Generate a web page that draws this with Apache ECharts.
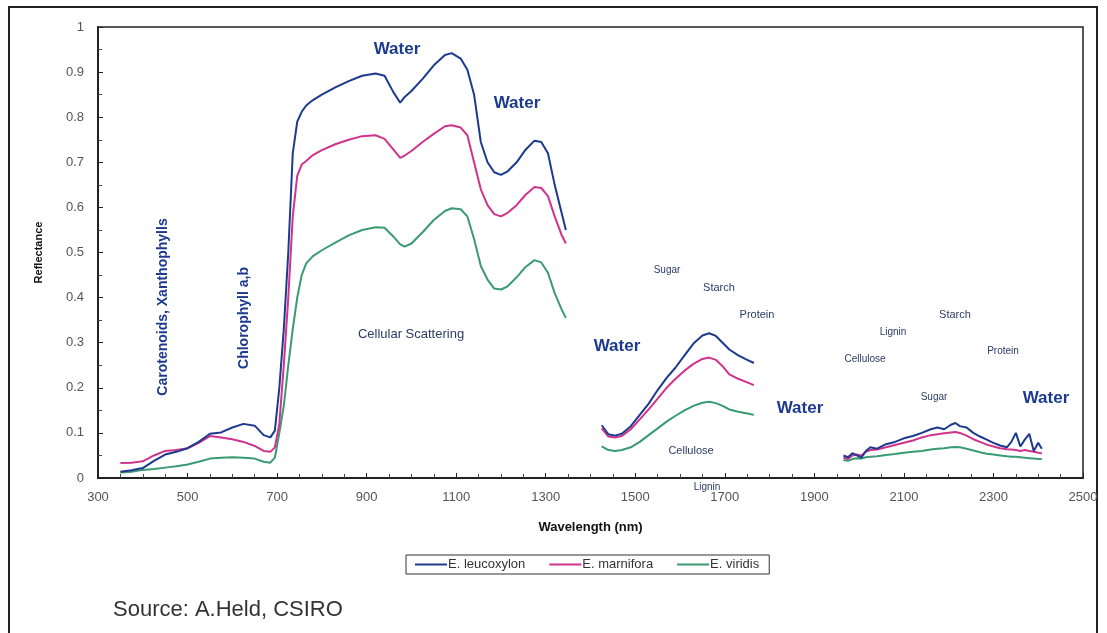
<!DOCTYPE html>
<html>
<head>
<meta charset="utf-8">
<script src="https://cdn.jsdelivr.net/npm/echarts@6/dist/echarts.min.js"></script>
<style>
html,body{margin:0;padding:0;background:#fff;}
#chart{width:1107px;height:633px;}
</style>
</head>
<body>
<div id="chart"></div>
<script>
// Wavelength samples (nm); null marks a gap in the measured spectrum
const wavelengths = [
  350,375,400,425,450,475,500,525,550,575,600,625,650,670,685,695,705,715,725,735,745,755,765,780,800,830,860,890,920,940,960,975,985,1000,1025,1050,1075,1090,1110,1125,1140,1155,1170,1185,1200,1215,1235,1255,1275,1290,1305,1320,1335,1345,
  1380,
  1425,1440,1455,1470,1490,1510,1530,1550,1570,1590,1610,1630,1650,1665,1680,1695,1710,1730,1750,1765,
  1860,
  1965,1975,1985,1995,2005,2015,2025,2040,2060,2080,2100,2120,2140,2160,2175,2190,2205,2215,2225,2240,2255,2270,2285,2300,2315,2330,2340,2350,2360,2370,2380,2390,2400,2408
];
const leucoxylon = [
  0.014,0.017,0.022,0.038,0.052,0.058,0.066,0.080,0.098,0.101,0.112,0.120,0.116,0.095,0.090,0.105,0.20,0.33,0.50,0.72,0.79,0.812,0.826,0.838,0.850,0.866,0.880,0.892,0.897,0.892,0.855,0.832,0.845,0.858,0.885,0.915,0.938,0.942,0.930,0.905,0.850,0.745,0.700,0.678,0.672,0.680,0.700,0.728,0.748,0.745,0.720,0.650,0.590,0.550,
  null,
  0.117,0.097,0.094,0.098,0.115,0.140,0.165,0.195,0.222,0.245,0.272,0.298,0.316,0.321,0.315,0.300,0.285,0.272,0.262,0.255,
  null,
  0.050,0.046,0.055,0.050,0.045,0.060,0.068,0.065,0.075,0.080,0.088,0.093,0.100,0.108,0.112,0.108,0.118,0.122,0.115,0.112,0.100,0.092,0.085,0.078,0.072,0.068,0.080,0.100,0.070,0.085,0.098,0.060,0.078,0.065
];
const marnifora = [
  0.033,0.034,0.037,0.050,0.060,0.062,0.066,0.078,0.093,0.090,0.086,0.080,0.071,0.060,0.058,0.068,0.12,0.25,0.40,0.58,0.67,0.695,0.703,0.716,0.727,0.740,0.750,0.758,0.760,0.752,0.728,0.710,0.715,0.725,0.745,0.763,0.780,0.782,0.777,0.760,0.700,0.640,0.605,0.585,0.580,0.588,0.605,0.628,0.645,0.643,0.625,0.580,0.540,0.520,
  null,
  0.110,0.092,0.090,0.093,0.108,0.130,0.152,0.176,0.200,0.220,0.238,0.253,0.264,0.267,0.262,0.248,0.230,0.220,0.212,0.206,
  null,
  0.045,0.042,0.050,0.052,0.050,0.058,0.062,0.063,0.068,0.073,0.078,0.083,0.090,0.095,0.097,0.099,0.101,0.102,0.100,0.094,0.086,0.080,0.074,0.070,0.066,0.064,0.063,0.062,0.060,0.062,0.060,0.058,0.056,0.055
];
const viridis = [
  0.012,0.014,0.018,0.020,0.023,0.026,0.030,0.036,0.043,0.045,0.046,0.045,0.043,0.036,0.034,0.045,0.10,0.16,0.25,0.33,0.40,0.45,0.476,0.492,0.505,0.522,0.538,0.550,0.556,0.555,0.535,0.518,0.513,0.520,0.545,0.572,0.592,0.598,0.596,0.580,0.530,0.470,0.440,0.420,0.418,0.425,0.445,0.468,0.483,0.478,0.455,0.410,0.375,0.355,
  null,
  0.070,0.062,0.060,0.062,0.068,0.080,0.095,0.110,0.125,0.138,0.150,0.160,0.167,0.169,0.166,0.160,0.152,0.147,0.143,0.140,
  null,
  0.040,0.038,0.042,0.044,0.043,0.046,0.047,0.048,0.051,0.053,0.056,0.058,0.060,0.063,0.065,0.066,0.068,0.069,0.068,0.065,0.061,0.057,0.054,0.052,0.050,0.048,0.047,0.047,0.046,0.045,0.044,0.043,0.042,0.042
];
const seriesNames = ['E. leucoxylon','E. marnifora','E. viridis'];
const xTicks = {min:300, max:2500, interval:200};
const yTicks = {min:0, max:1, interval:0.1};

const colors = ['#1c3a8e','#d0338c','#3a9a72'];
const FONT = '"Liberation Sans", Arial, sans-serif';

function toData(vals){
  return wavelengths.map((w,i)=>[w, vals[i]===null ? '-' : vals[i]]);
}

const chart = echarts.init(document.getElementById('chart'));
const waterStyle = {fill:'#1c3a8e', font:'bold 17px ' + FONT, textAlign:'center', textVerticalAlign:'middle'};
const smallStyle = (size)=>({fill:'#2c3a66', font: size + 'px ' + FONT, textAlign:'center', textVerticalAlign:'middle'});
function txt(x,y,text,style,rot){
  return {type:'text', x:x, y:y, rotation: rot||0, style:Object.assign({text:text}, style), z:10};
}

const option = {
  animation:false,
  backgroundColor:'#fff',
  color: colors,
  grid:{left:98, right:24, top:27, bottom:155, show:true, borderColor:'#222', borderWidth:1.5, backgroundColor:'transparent'},
  xAxis:{
    type:'value', min:xTicks.min, max:xTicks.max, interval:xTicks.interval,
    name:'Wavelength (nm)', nameLocation:'middle', nameGap:43,
    nameTextStyle:{fontFamily:FONT, fontWeight:'bold', fontSize:13, color:'#111'},
    axisLine:{lineStyle:{color:'#222', width:2}},
    axisTick:{inside:true, length:5, lineStyle:{color:'#222'}},
    minorTick:{show:true, splitNumber:4, length:4, lineStyle:{color:'#444'}},
    splitLine:{show:false},
    axisLabel:{fontFamily:FONT, fontSize:13, color:'#555', margin:13, formatter:(v)=>String(v)}
  },
  yAxis:{
    type:'value', min:yTicks.min, max:yTicks.max, interval:yTicks.interval,
    name:'Reflectance', nameLocation:'middle', nameGap:54, nameRotate:90,
    nameTextStyle:{fontFamily:FONT, fontWeight:'bold', fontSize:11, color:'#111'},
    axisLine:{show:true, lineStyle:{color:'#222', width:2}},
    axisTick:{show:true, inside:true, length:5, lineStyle:{color:'#222'}},
    minorTick:{show:true, splitNumber:2, length:4, lineStyle:{color:'#444'}},
    splitLine:{show:false},
    axisLabel:{fontFamily:FONT, fontSize:13, color:'#555', margin:14, formatter:(v)=>String(v)}
  },
  legend:{
    data: seriesNames,
    left:406, top:555, orient:'horizontal',
    borderColor:'#333', borderWidth:1, padding:[3,10,3,9],
    itemWidth:32, itemHeight:2, itemGap:24, icon:'rect',
    textStyle:{fontFamily:FONT, fontSize:13, color:'#333', padding:[0,0,0,-4]}
  },
  series: [leucoxylon, marnifora, viridis].map((vals,i)=>({
    name: seriesNames[i], type:'line', data: toData(vals), showSymbol:false, symbol:'none',
    connectNulls:false, smooth:false,
    lineStyle:{width:2, color:colors[i]}, itemStyle:{color:colors[i]}, z: 3 - i
  })),
  graphic:[
    {type:'rect', shape:{x:9, y:7, width:1088, height:640}, style:{fill:'none', stroke:'#222', lineWidth:2}, z:0, silent:true},
    txt(397,49,'Water',waterStyle),
    txt(517,103,'Water',waterStyle),
    txt(617,346,'Water',waterStyle),
    txt(800,408,'Water',waterStyle),
    txt(1046,398,'Water',waterStyle),
    txt(163,307,'Carotenoids, Xanthophylls',{fill:'#1c3a8e', font:'bold 14px ' + FONT, textAlign:'center', textVerticalAlign:'middle'}, Math.PI/2),
    txt(244,318,'Chlorophyll a,b',{fill:'#1c3a8e', font:'bold 14px ' + FONT, textAlign:'center', textVerticalAlign:'middle'}, Math.PI/2),
    txt(411,334,'Cellular Scattering',smallStyle(13)),
    txt(667,270,'Sugar',smallStyle(10)),
    txt(719,288,'Starch',smallStyle(11)),
    txt(757,315,'Protein',smallStyle(11)),
    txt(691,451,'Cellulose',smallStyle(11)),
    txt(707,487,'Lignin',smallStyle(10)),
    txt(865,359,'Cellulose',smallStyle(10)),
    txt(893,332,'Lignin',smallStyle(10)),
    txt(955,315,'Starch',smallStyle(11)),
    txt(1003,351,'Protein',smallStyle(10)),
    txt(934,397,'Sugar',smallStyle(10)),
    {type:'text', x:113, y:610, style:{text:'Source: A.Held, CSIRO', fill:'#333', font:'22px ' + FONT, textVerticalAlign:'middle'}, z:10}
  ]
};
chart.setOption(option);
</script>
</body>
</html>
